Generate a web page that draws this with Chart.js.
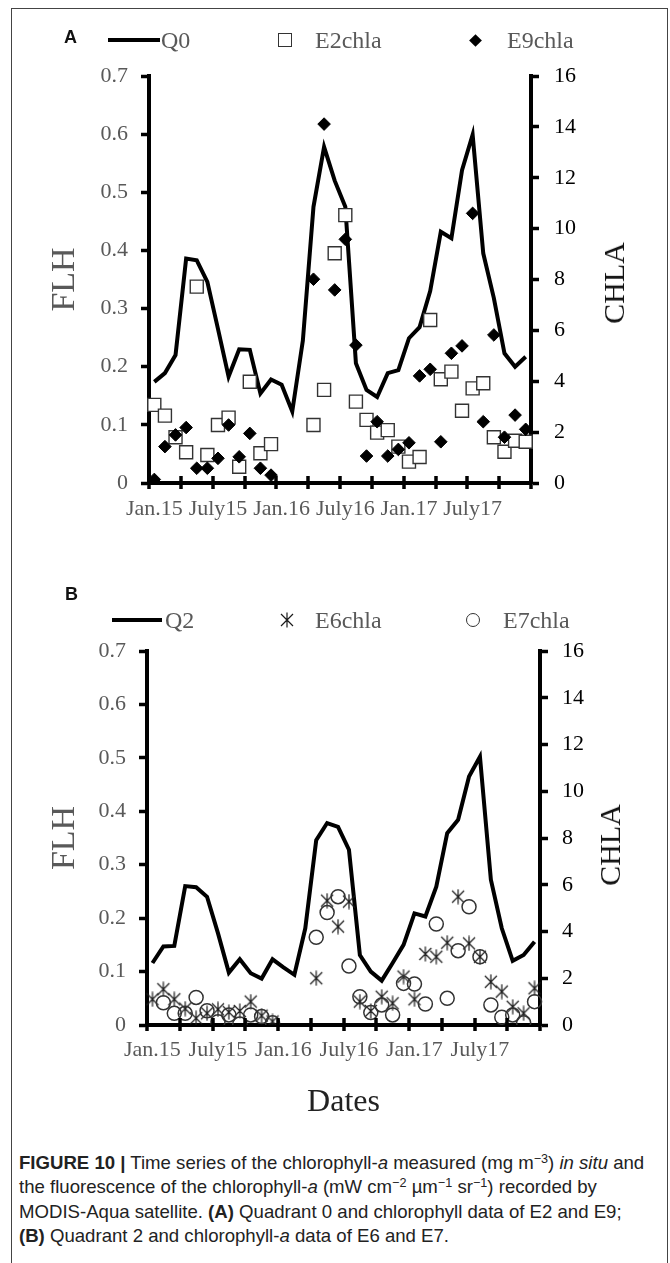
<!DOCTYPE html>
<html><head><meta charset="utf-8">
<script src="https://cdn.jsdelivr.net/npm/chart.js@4.4.1/dist/chart.umd.min.js"></script>
<style>
html,body{margin:0;padding:0;background:#fff;}
body{width:670px;height:1263px;position:relative;overflow:hidden;font-family:"Liberation Serif","Times New Roman",serif;}
#frame{position:absolute;left:11px;top:8px;width:657px;height:1300px;border:1px solid #444;box-sizing:border-box;}
canvas.chart{position:absolute;left:0;}
.lt{position:absolute;font-size:24px;line-height:24px;color:#595959;white-space:nowrap;}
.panel{position:absolute;font-family:"Liberation Sans",Arial,sans-serif;font-weight:bold;font-size:18px;line-height:18px;color:#111;}
.ytitle{position:absolute;font-size:30px;line-height:30px;color:#111;white-space:nowrap;transform:translate(-50%,-50%) rotate(-90deg);}
#caption{position:absolute;left:19px;top:1151px;font-family:"Liberation Sans",Arial,sans-serif;font-size:18.6px;line-height:24.3px;color:#222;white-space:nowrap;}
#caption sup{font-size:0.68em;line-height:0;vertical-align:0.5em;}
</style>
</head><body>
<div id="frame"></div>
<canvas id="cA" class="chart" width="670" height="560" style="top:0px"></canvas>
<canvas id="cB" class="chart" width="670" height="580" style="top:560px"></canvas>

<div class="panel" style="left:64px;top:28px">A</div>
<div class="panel" style="left:65px;top:585px">B</div>

<div style="position:absolute;left:108px;top:38px;width:52px;height:4px;background:#000"></div>
<div class="lt" style="left:161px;top:28px">Q0</div>
<div style="position:absolute;left:278px;top:33px;width:14px;height:14px;border:1.4px solid #333;box-sizing:border-box;background:#fff"></div>
<div class="lt" style="left:315px;top:28px">E2chla</div>
<div style="position:absolute;left:471px;top:36px;width:9px;height:9px;background:#000;transform:rotate(45deg)"></div>
<div class="lt" style="left:507px;top:28px">E9chla</div>

<div style="position:absolute;left:112px;top:618px;width:50px;height:4px;background:#000"></div>
<div class="lt" style="left:165px;top:608px">Q2</div>
<div id="legAst" style="position:absolute;left:279px;top:612px;width:16px;height:16px"></div>
<div class="lt" style="left:315px;top:608px">E6chla</div>
<div style="position:absolute;left:466px;top:613px;width:14px;height:14px;border:1.5px solid #333;border-radius:50%;box-sizing:border-box"></div>
<div class="lt" style="left:503px;top:608px">E7chla</div>

<div class="ytitle" style="left:614px;top:283px">CHLA</div>
<div class="ytitle" style="left:610px;top:845px">CHLA</div>

<div id="caption"><b>FIGURE 10 |</b> Time series of the chlorophyll-<i>a</i> measured (mg m<sup>−3</sup>) <i>in situ</i> and<br>the fluorescence of the chlorophyll-<i>a</i> (mW cm<sup>−2</sup> µm<sup>−1</sup> sr<sup>−1</sup>) recorded by<br>MODIS-Aqua satellite. <b>(A)</b> Quadrant 0 and chlorophyll data of E2 and E9;<br><b>(B)</b> Quadrant 2 and chlorophyll-<i>a</i> data of E6 and E7.</div>

<script>
// ---- categories (monthly, Jan 2015 – Dec 2017) ----
const months = ['2015-01','2015-02','2015-03','2015-04','2015-05','2015-06','2015-07','2015-08','2015-09','2015-10','2015-11','2015-12',
                '2016-01','2016-02','2016-03','2016-04','2016-05','2016-06','2016-07','2016-08','2016-09','2016-10','2016-11','2016-12',
                '2017-01','2017-02','2017-03','2017-04','2017-05','2017-06','2017-07','2017-08','2017-09','2017-10','2017-11','2017-12'];
const tickLabels = {'2015-01':'Jan.15','2015-07':'July15','2016-01':'Jan.16','2016-07':'July16','2017-01':'Jan.17','2017-07':'July17'};

// ---- panel A ----
const Q0 = [0.174,0.189,0.220,0.386,0.383,0.346,0.265,0.183,0.230,0.229,0.154,0.178,
            0.169,0.123,0.245,0.475,0.578,0.520,0.475,0.206,0.160,0.148,0.189,0.194,
            0.249,0.268,0.330,0.432,0.421,0.538,0.599,0.395,0.318,0.223,0.200,0.217];
const E2chla = [3.07,2.65,1.80,1.21,7.72,1.10,2.28,2.57,0.64,3.98,1.17,1.53,
                null,null,null,2.28,3.66,9.03,10.53,3.20,2.48,1.98,2.08,1.43,
                0.84,1.02,6.41,4.08,4.38,2.84,3.72,3.92,1.80,1.23,1.66,1.62];
const E9chla = [0.14,1.43,1.89,2.18,0.58,0.58,0.97,2.28,1.03,1.95,0.58,0.31,
                null,null,null,8.01,14.11,7.59,9.58,5.42,1.06,2.41,1.06,1.32,
                1.58,4.21,4.47,1.62,5.10,5.39,10.60,2.41,5.82,1.80,2.67,2.11];

// ---- panel B ----
const Q2 = [0.116,0.147,0.148,0.260,0.258,0.240,0.172,0.098,0.123,0.097,0.087,0.123,
            0.108,0.094,0.181,0.346,0.378,0.371,0.328,0.131,0.100,0.083,0.116,0.150,
            0.209,0.203,0.259,0.359,0.384,0.465,0.502,0.272,0.181,0.120,0.131,0.156];
const E6chla = [1.10,1.53,1.10,0.70,0.29,0.50,0.67,0.55,0.60,1.00,0.40,0.15,
                null,null,null,2.00,5.32,4.21,5.28,1.00,0.60,1.21,0.93,2.07,
                1.10,3.04,2.92,3.52,5.49,3.49,2.92,1.85,1.43,0.78,0.50,1.57];
const E7chla = [null,0.95,0.50,0.50,1.18,0.61,0.14,0.43,0.04,0.43,0.36,0.10,
                null,null,null,3.75,4.81,5.49,2.52,1.21,0.53,0.86,0.43,1.78,
                1.75,0.90,4.32,1.14,3.18,5.06,2.92,0.86,0.33,0.43,0.10,1.00];

const FLH_MAX = 0.7, FLH_STEP = 0.1, CHLA_MAX = 16, CHLA_STEP = 2;

function asterisk(size, lw, color){
  const c = document.createElement('canvas'); c.width = size; c.height = size;
  const g = c.getContext('2d'); g.strokeStyle = color; g.lineWidth = lw; g.lineCap = 'butt';
  const m = size/2, r = size/2 - 0.5, d = r*0.8;
  g.beginPath();
  g.moveTo(m, m-r); g.lineTo(m, m+r);
  g.moveTo(m-d, m-d); g.lineTo(m+d, m+d);
  g.moveTo(m+d, m-d); g.lineTo(m-d, m+d);
  g.stroke();
  return c;
}
document.getElementById('legAst').appendChild(asterisk(16, 1.2, '#1a1a1a'));
const astImg = asterisk(16, 1.2, '#1a1a1a');

const xTickPlugin = {
  id: 'xTicks',
  afterDraw(chart){
    const s = chart.scales.x, ctx = chart.ctx;
    const n = months.length, per = 3;
    const step = (s.right - s.left) / n * per;
    ctx.save(); ctx.strokeStyle = '#000'; ctx.lineWidth = 3.5;
    for (let k = 0; k <= n/per; k++){
      const x = Math.round(s.left + k*step);
      ctx.beginPath(); ctx.moveTo(x, s.top - 7); ctx.lineTo(x, s.top + 6); ctx.stroke();
    }
    ctx.restore();
  }
};

const serif = 'Liberation Serif';
function makeChart(id, o){
  return new Chart(document.getElementById(id), {
    type: 'line',
    data: {labels: months, datasets: o.datasets},
    plugins: [xTickPlugin],
    options: {
      responsive: false, animation: false, devicePixelRatio: 1,
      layout: {padding: {top: o.top, left: 0, right: 0, bottom: 0}},
      plugins: {legend: {display: false}, tooltip: {enabled: false}},
      scales: {
        x: {type: 'category', offset: true,
            grid: {display: false, drawTicks: false, offset: true},
            border: {display: true, color: '#000', width: 4},
            ticks: {autoSkip: false, maxRotation: 0, minRotation: 0, padding: o.xPad, color: '#595959',
                    font: {family: serif, size: 22},
                    callback: (v, i) => tickLabels[months[i]] || ''},
            title: o.xTitle ? {display: true, text: o.xTitle, color: '#222', font: {family: serif, size: 32}, padding: {top: 0, bottom: o.xTitlePad}} : {display: false},
            afterFit: s => { s.height = o.xH; }},
        y: {position: 'left', min: 0, max: FLH_MAX,
            ticks: {stepSize: FLH_STEP, padding: o.yPad, color: '#595959', font: {family: serif, size: 22},
                    callback: v => String(Number(v.toFixed(1)))},
            grid: {drawOnChartArea: false, drawTicks: true, tickLength: 8, tickWidth: 3.5, tickColor: '#000'},
            border: {display: true, color: '#000', width: 4},
            title: {display: true, text: 'FLH', color: '#595959', font: {family: serif, size: 34}, padding: {top: o.flhPad, bottom: 0}},
            afterFit: s => { s.width = o.left; }},
        y1: {position: 'right', min: 0, max: CHLA_MAX,
            ticks: {stepSize: CHLA_STEP, padding: o.y1Pad, color: '#000', font: {family: serif, size: 22}},
            grid: {drawOnChartArea: false, drawTicks: true, tickLength: 8, tickWidth: 3.5, tickColor: '#000'},
            border: {display: true, color: '#000', width: 4},
            afterFit: s => { s.width = 670 - o.right; }}
      }
    }
  });
}

makeChart('cA', {
  top: 76, left: 149, right: 531, xH: 560 - 483, xPad: 13, yPad: 13, y1Pad: 15, flhPad: 45,
  datasets: [
    {label: 'Q0', data: Q0, yAxisID: 'y', borderColor: '#000', borderWidth: 4, pointRadius: 0, fill: false, order: 3},
    {label: 'E2chla', data: E2chla, yAxisID: 'y1', showLine: false, pointStyle: 'rect', pointRadius: 9.2,
     pointBackgroundColor: '#fff', pointBorderColor: '#333', pointBorderWidth: 1.4, order: 2},
    {label: 'E9chla', data: E9chla, yAxisID: 'y1', showLine: false, pointStyle: 'rectRot', pointRadius: 6.3,
     pointBackgroundColor: '#000', pointBorderColor: '#000', pointBorderWidth: 1, order: 1}
  ]
});

makeChart('cB', {
  top: 651 - 560, left: 147, right: 540, xH: 580 - (1025 - 560), xPad: 12, yPad: 13, y1Pad: 14, flhPad: 45,
  xTitle: 'Dates', xTitlePad: 18,
  datasets: [
    {label: 'Q2', data: Q2, yAxisID: 'y', borderColor: '#000', borderWidth: 4, pointRadius: 0, fill: false, order: 3},
    {label: 'E6chla', data: E6chla, yAxisID: 'y1', showLine: false, pointStyle: astImg, pointRadius: 8, order: 2},
    {label: 'E7chla', data: E7chla, yAxisID: 'y1', showLine: false, pointStyle: 'circle', pointRadius: 7,
     pointBackgroundColor: 'rgba(255,255,255,0)', pointBorderColor: '#333', pointBorderWidth: 1.5, order: 1}
  ]
});
</script>
</body></html>
